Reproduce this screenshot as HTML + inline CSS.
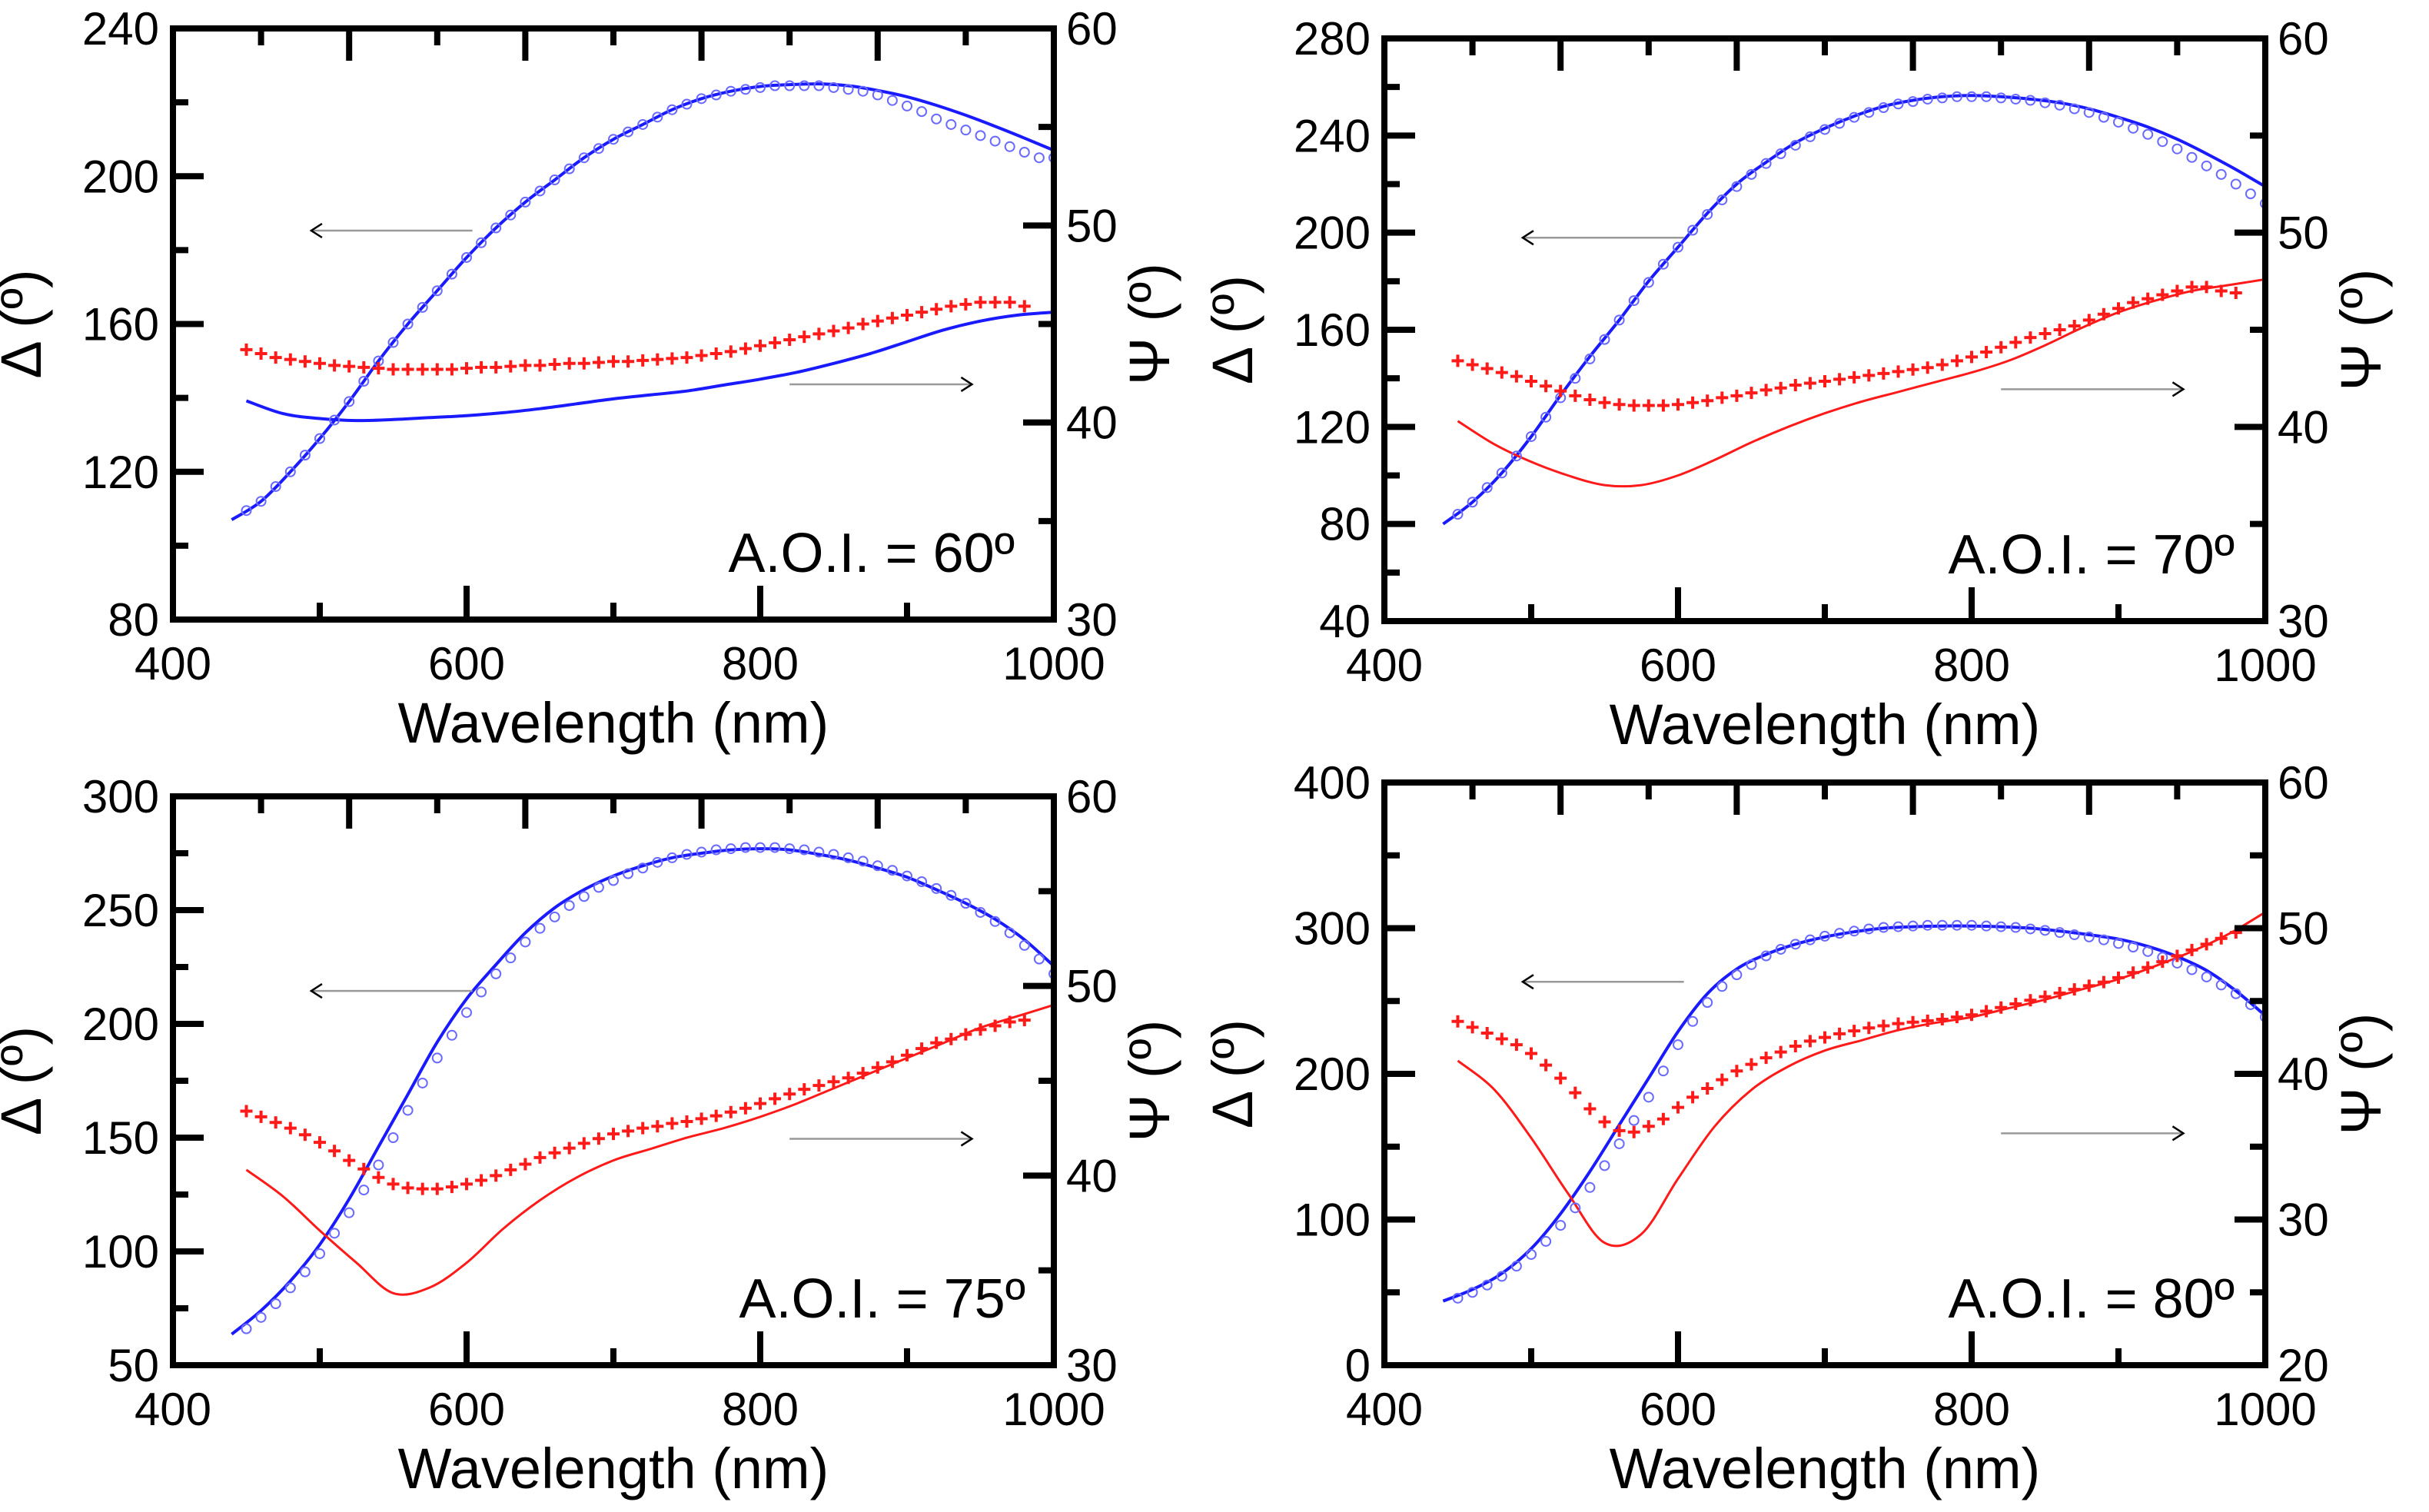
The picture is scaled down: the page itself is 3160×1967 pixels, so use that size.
<!DOCTYPE html>
<html><head><meta charset="utf-8">
<style>
html,body{margin:0;padding:0;background:#fff;}
svg{display:block;}
text{font-family:"Liberation Sans",Arial,sans-serif;fill:#000;}
</style></head>
<body>
<svg id="fig" width="3160" height="1967" viewBox="0 0 3160 1967" xmlns="http://www.w3.org/2000/svg"></svg>
<script>
// ---- data (wavelength in nm) ----
const fitDeltaStart = 440, fitDeltaStep = 20;
const fitPsiStart = 450, fitPsiStep = 25;
const measStart = 450, measStep = 10;
const aoiLabels = ["A.O.I. = 60º","A.O.I. = 70º","A.O.I. = 75º","A.O.I. = 80º"];
const deltaRanges = [[80,240,40],[40,280,40],[50,300,50],[0,400,100]];
const psiRanges = [[30,60,10],[30,60,10],[30,60,10],[20,60,10]];
const xTicks = [400,600,800,1000];

const deltaFit60 = [107,112,120,129,139,150,160,169,178,186,193,199,205,210,214,218,221,223,224.3,224.8,225,224.5,223.2,221.5,219.2,216.5,213.5,210.3,207];
const deltaMeas60 = [109.5,112,116,120,124.5,129,134,139,144.5,150,155,160,164.5,169,173.5,178,182,186,189.5,193,196,199,202,205,207.5,210,212,214,216,218,219.5,221,222,223,223.5,224,224.5,224.5,224.5,224.5,224,223.5,223,222,220.5,219,217.5,215.5,214,212.5,211,209.5,208,206.5,205,205];
const psiMeas60 = [43.7,43.5,43.3,43.2,43.1,43.0,42.9,42.85,42.8,42.75,42.7,42.7,42.7,42.7,42.7,42.75,42.8,42.8,42.85,42.9,42.9,42.95,43.0,43.0,43.05,43.1,43.1,43.15,43.2,43.25,43.3,43.4,43.5,43.6,43.75,43.9,44.05,44.2,44.35,44.5,44.65,44.8,45.0,45.15,45.3,45.45,45.6,45.75,45.9,46.0,46.1,46.1,46.1,45.9];
const psiFit60 = [41.1,40.45,40.2,40.1,40.15,40.25,40.35,40.5,40.7,40.95,41.2,41.4,41.6,41.9,42.2,42.55,43.0,43.5,44.1,44.7,45.15,45.45,45.6];

const deltaFit70 = [80,89,101,116,133,149,164,180,194,208,220,229,237,243,248,252,254.5,256,256.5,256,255,253.5,251,247.5,243.5,238.5,232.5,226,219];
const deltaMeas70 = [84,89,95,101,108,116,124,132,140,148,156,164,172,179.5,187,194,201,207.5,213.5,219,224,228.5,232.5,236,239.5,242.5,245,247.5,249.5,251.5,253,254,255,255.5,256,256,256,255.5,255,254.5,253.5,252.5,251,249.5,247.5,245.5,243,240.5,237.5,234.5,231,227.5,224,220,216,212];
const psiMeas70 = [43.4,43.2,43.0,42.8,42.6,42.35,42.1,41.85,41.6,41.4,41.25,41.15,41.1,41.1,41.1,41.15,41.25,41.35,41.5,41.6,41.75,41.9,42.0,42.15,42.25,42.35,42.45,42.55,42.65,42.75,42.85,42.95,43.05,43.2,43.4,43.6,43.85,44.1,44.35,44.6,44.8,45.0,45.2,45.5,45.8,46.1,46.4,46.6,46.8,47.0,47.2,47.2,47.0,46.9];
const psiFit70 = [40.3,39.1,38.2,37.5,37.0,37.0,37.5,38.3,39.2,40.0,40.7,41.3,41.8,42.3,42.8,43.4,44.2,45.1,45.9,46.5,47.0,47.3,47.6];

const deltaFit75 = [63.6,74,87,103,123,146,169,192,211,226,240,251,259,265,269.5,273,275,276.5,277,276.5,274.5,272,268.5,264.5,259,253,246,237,225.4];
const deltaMeas75 = [66,71,77,84,91,99,108,117,127,138,150,162,174,185,195,205,214,222,229,236,242,247,252,256,260,263,266,268.5,271,273,274.5,275.5,276.5,277,277.5,277.5,277.5,277,276.5,275.5,274.5,273,271.5,269.5,267.5,265,262.5,259.5,256.5,253,249,245,240,234.5,228.5,222];
const psiMeas75 = [43.4,43.1,42.8,42.5,42.15,41.75,41.3,40.8,40.35,39.9,39.55,39.35,39.3,39.3,39.4,39.55,39.75,40.0,40.3,40.6,40.95,41.2,41.45,41.7,41.95,42.2,42.35,42.5,42.6,42.75,42.85,43.0,43.15,43.35,43.55,43.8,44.05,44.3,44.55,44.75,44.95,45.15,45.4,45.7,46.0,46.35,46.7,47.0,47.2,47.45,47.7,47.9,48.1,48.2];
const psiFit75 = [40.3,38.9,37.1,35.4,33.8,34.1,35.4,37.2,38.7,39.9,40.8,41.4,42.0,42.5,43.1,43.8,44.6,45.4,46.2,47.0,47.8,48.4,49.0];

const deltaFit80 = [44,52,63,80,104,133,165,197,229,255,272,282,289,294,297.5,300,301,301.5,301.5,301,300,298,295.5,292.5,287.5,280.5,271,257,240];
const deltaMeas80 = [46,50,55,61,68,76,85,96,108,122,137,152,168,184,202,220,236,249,260,268,275,281,285.5,289,292,294.5,296.5,298,299.5,300.5,301,301.5,302,302,302,302,301.5,301,300.5,299.5,298.5,297,295.5,294,292,289.5,287,284,280,276,271.5,266.5,261,255,247.5,239];
const psiMeas80 = [43.6,43.2,42.8,42.4,42.0,41.4,40.6,39.7,38.7,37.6,36.7,36.1,36.0,36.4,36.9,37.7,38.4,39.0,39.6,40.2,40.65,41.1,41.5,41.9,42.25,42.5,42.75,42.95,43.15,43.3,43.45,43.55,43.65,43.75,43.9,44.05,44.3,44.55,44.8,45.05,45.3,45.55,45.8,46.05,46.3,46.6,46.95,47.3,47.7,48.1,48.5,48.9,49.3,49.7];
const psiFit80 = [40.9,38.9,35.6,31.8,28.4,29.0,32.8,36.4,38.9,40.5,41.6,42.3,43.0,43.5,43.9,44.5,45.1,45.8,46.5,47.4,48.4,49.6,51.1];

const deltaFits = [deltaFit60,deltaFit70,deltaFit75,deltaFit80];
const deltaMeas = [deltaMeas60,deltaMeas70,deltaMeas75,deltaMeas80];
const psiFits = [psiFit60,psiFit70,psiFit75,psiFit80];
const psiMeas = [psiMeas60,psiMeas70,psiMeas75,psiMeas80];

// ---- layout ----
const frames = [[225,37,1371,806],[1801,50,2947,808],[225,1036,1371,1776],[1801,1018,2947,1776]];
const psiFitColors = ["#1a1aff","#ff1a1a","#ff1a1a","#ff1a1a"];
const aoiOffsets = [51,40,37,40];
const NS = "http://www.w3.org/2000/svg";
const svg = document.getElementById("fig");
function mk(tag, attrs, parent){
  const e = document.createElementNS(NS, tag);
  for (const k in attrs) e.setAttribute(k, attrs[k]);
  (parent||svg).appendChild(e);
  return e;
}
function smoothPath(pts){
  let d = "M"+pts[0][0].toFixed(1)+","+pts[0][1].toFixed(1);
  for (let i=0;i<pts.length-1;i++){
    const p0=pts[i-1]||pts[i], p1=pts[i], p2=pts[i+1], p3=pts[i+2]||pts[i+1];
    const c1=[p1[0]+(p2[0]-p0[0])/6, p1[1]+(p2[1]-p0[1])/6];
    const c2=[p2[0]-(p3[0]-p1[0])/6, p2[1]-(p3[1]-p1[1])/6];
    d += "C"+c1[0].toFixed(1)+","+c1[1].toFixed(1)+" "+c2[0].toFixed(1)+","+c2[1].toFixed(1)+" "+p2[0].toFixed(1)+","+p2[1].toFixed(1);
  }
  return d;
}

for (let p=0;p<4;p++){
  const [L,T,R,B] = frames[p];
  const W=R-L, H=B-T;
  const [dMin,dMax,dStep] = deltaRanges[p];
  const [pMin,pMax,pStep] = psiRanges[p];
  const xs = nm => L + (nm-400)/600*W;
  const yd = v => B - (v-dMin)/(dMax-dMin)*H;
  const yp = v => B - (v-pMin)/(pMax-pMin)*H;
  const g = mk("g",{});
  
  

  const clip = mk("clipPath",{id:"clip"+p}, g);
  mk("rect",{x:L,y:T,width:W,height:H}, clip);
  const plot = mk("g",{"clip-path":"url(#clip"+p+")"}, g);
  
  

  const dfPts = deltaFits[p].map((v,i)=>[xs(fitDeltaStart+i*fitDeltaStep), yd(v)]);
  const dfl = mk("path",{d:smoothPath(dfPts),fill:"none",stroke:"#1a1aff","stroke-width":4}, plot);
  
  
  const pfPts = psiFits[p].map((v,i)=>[xs(fitPsiStart+i*fitPsiStep), yp(v)]);
  const pfl = mk("path",{d:smoothPath(pfPts),fill:"none",stroke:psiFitColors[p],"stroke-width":p===0?4:3}, plot);
  
  
  deltaMeas[p].forEach((v,i)=>{
    const c = mk("circle",{cx:xs(measStart+i*measStep),cy:yd(v),r:6,fill:"none",stroke:"#6a6aff","stroke-width":2}, plot);
    
    
  });
  psiMeas[p].forEach((v,i)=>{
    const x = xs(measStart+i*measStep), y = yp(v);
    const c = mk("path",{d:`M${x-8},${y}H${x+8}M${x},${y-8}V${y+8}`,stroke:"#ff1a1a","stroke-width":4,fill:"none"}, plot);
    
    
  });

  const ay1 = T+0.342*H, ax1a = L+0.157*W, ax1b = L+0.34*W;
  const a1 = mk("g",{}, g);
  
  
  mk("line",{x1:ax1a,y1:ay1,x2:ax1b,y2:ay1,stroke:"#999","stroke-width":2.5}, a1);
  mk("path",{d:`M${ax1a+14},${ay1-9}L${ax1a},${ay1}L${ax1a+14},${ay1+9}`,stroke:"#000","stroke-width":2.5,fill:"none"}, a1);
  const ay2 = T+0.602*H, ax2a = L+0.70*W, ax2b = L+0.907*W;
  const a2 = mk("g",{}, g);
  
  
  mk("line",{x1:ax2a,y1:ay2,x2:ax2b,y2:ay2,stroke:"#999","stroke-width":2.5}, a2);
  mk("path",{d:`M${ax2b-14},${ay2-9}L${ax2b},${ay2}L${ax2b-14},${ay2+9}`,stroke:"#000","stroke-width":2.5,fill:"none"}, a2);

  const tk = mk("g",{stroke:"#000","stroke-width":8,"stroke-linecap":"butt"}, g);
  
  
  for (let nm=500; nm<1000; nm+=100){
    const major = (nm%200===0);
    mk("line",{x1:xs(nm),y1:B,x2:xs(nm),y2:B-(major?44:22)}, tk);
  }
  for (let k=1;k<10;k++){
    const x=L+k*W/10;
    mk("line",{x1:x,y1:T,x2:x,y2:T+(k%2===0?42:22)}, tk);
  }
  for (let v=dMin+dStep/2; v<dMax; v+=dStep/2){
    const major = Math.abs(((v-dMin)/dStep)%1)<1e-6;
    mk("line",{x1:L,y1:yd(v),x2:L+(major?40:20),y2:yd(v)}, tk);
  }
  for (let v=pMin+pStep/2; v<pMax; v+=pStep/2){
    const major = Math.abs(((v-pMin)/pStep)%1)<1e-6;
    mk("line",{x1:R,y1:yp(v),x2:R-(major?40:20),y2:yp(v)}, tk);
  }
  const fr = mk("rect",{x:L,y:T,width:W,height:H,fill:"none",stroke:"#000","stroke-width":8}, g);
  
  

  for (let v=dMin; v<=dMax+1e-6; v+=dStep){
    const t = mk("text",{x:L-18,y:yd(v)+21,"font-size":60,"text-anchor":"end"}, g);
    t.textContent = v;
    
    
  }
  for (let v=pMin; v<=pMax+1e-6; v+=pStep){
    const t = mk("text",{x:R+16,y:yp(v)+21,"font-size":60,"text-anchor":"start"}, g);
    t.textContent = v;
    
    
  }
  xTicks.forEach(nm=>{
    const t = mk("text",{x:xs(nm),y:B+78,"font-size":60,"text-anchor":"middle"}, g);
    t.textContent = nm;
    
    
  });
  const xt = mk("text",{x:(L+R)/2,y:B+160,"font-size":74,"text-anchor":"middle"}, g);
  xt.textContent = "Wavelength (nm)";
  
  
  const cy = (T+B)/2;
  const ylx = L-172;
  const yl = mk("text",{x:ylx,y:cy,"font-size":74,"text-anchor":"middle",transform:`rotate(-90 ${ylx} ${cy})`}, g);
  yl.textContent = "Δ (º)";
  
  
  const yrx = R+150;
  const yr = mk("text",{x:yrx,y:cy,"font-size":74,"text-anchor":"middle",transform:`rotate(-90 ${yrx} ${cy})`}, g);
  yr.textContent = "Ψ (º)";
  
  
  const al = mk("text",{x:R-aoiOffsets[p],y:B-62,"font-size":72,"text-anchor":"end"}, g);
  al.textContent = aoiLabels[p];
  
  
}
</script>
</body></html>
